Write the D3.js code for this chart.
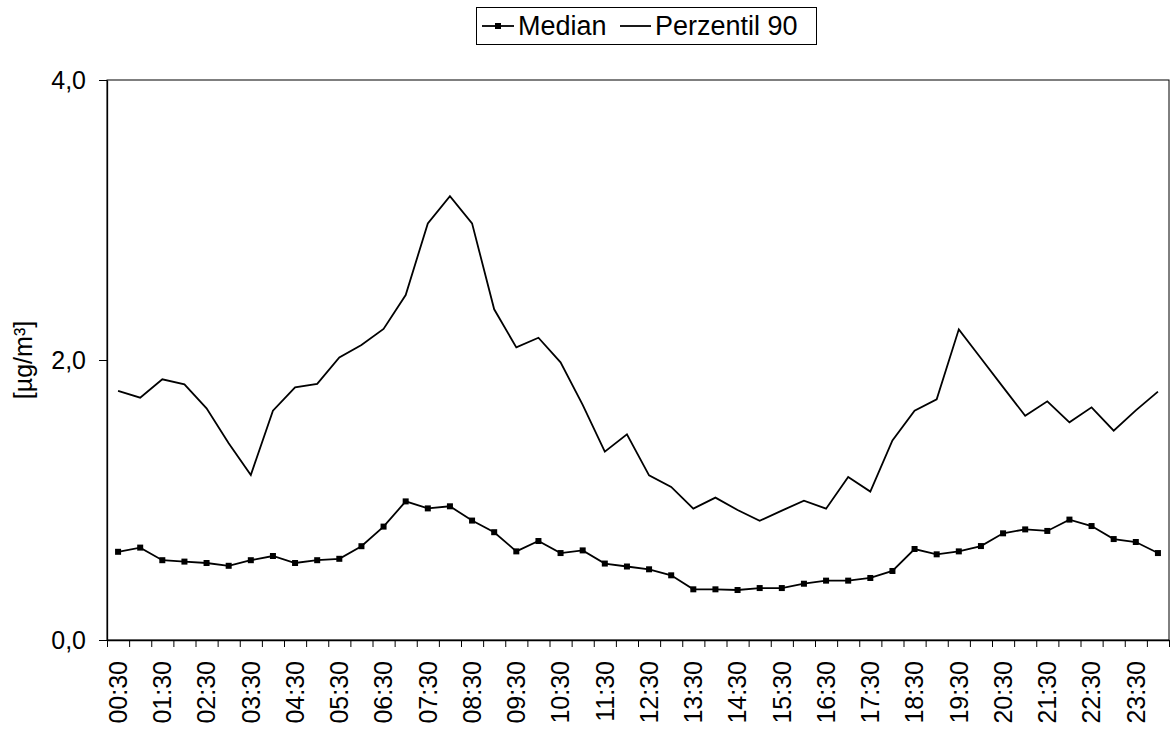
<!DOCTYPE html>
<html>
<head>
<meta charset="utf-8">
<script src="https://cdn.jsdelivr.net/npm/d3@7"></script>
<style>
  html, body { margin: 0; padding: 0; background: #fff; }
  svg { display: block; font-family: "Liberation Sans", Arial, sans-serif; }
</style>
</head>
<body>
<svg id="chart" width="1171" height="731"></svg>
<script>
const categories = ["00:30","01:00","01:30","02:00","02:30","03:00","03:30","04:00","04:30","05:00","05:30","06:00",
  "06:30","07:00","07:30","08:00","08:30","09:00","09:30","10:00","10:30","11:00","11:30","12:00",
  "12:30","13:00","13:30","14:00","14:30","15:00","15:30","16:00","16:30","17:00","17:30","18:00",
  "18:30","19:00","19:30","20:00","20:30","21:00","21:30","22:00","22:30","23:00","23:30","24:00"];

const median = [0.63,0.66,0.57,0.56,0.55,0.53,0.57,0.60,0.55,0.57,0.58,0.67,
  0.81,0.99,0.94,0.955,0.853,0.77,0.633,0.707,0.621,0.64,0.546,0.525,
  0.505,0.462,0.362,0.362,0.357,0.371,0.371,0.402,0.424,0.424,0.443,0.493,
  0.65,0.612,0.633,0.671,0.762,0.79,0.779,0.86,0.814,0.721,0.70,0.621];

const perzentil90 = [1.779,1.731,1.862,1.826,1.655,1.405,1.179,1.638,1.805,1.829,2.019,2.107,
  2.222,2.464,2.976,3.171,2.976,2.362,2.09,2.159,1.983,1.68,1.345,1.469,
  1.176,1.093,0.938,1.017,0.929,0.852,0.924,0.995,0.938,1.164,1.06,1.426,
  1.638,1.719,2.219,2.012,1.806,1.602,1.705,1.555,1.662,1.495,1.64,1.774];

const yTicks = [0, 2, 4];
const seriesNames = ["Median", "Perzentil 90"];
const yTitle = "[µg/m³]";

(function () {
const svg = d3.select("#chart");
const pL = 107, pR = 1169, pT = 80, pB = 640;
const FONT = 25;
const LFONT = 27;

const x = d3.scaleBand().domain(categories).range([pL, pR]).padding(0);
const xb = d3.scaleLinear().domain([0, categories.length]).range([pL, pR]);
const y = d3.scaleLinear().domain([0, 4]).range([pB, pT]);
const cx = d => x(d) + x.bandwidth() / 2;

// plot border
svg.append("rect")
  .attr("x", pL).attr("y", pT)
  .attr("width", pR - pL).attr("height", pB - pT)
  .attr("fill", "none").attr("stroke", "#000").attr("stroke-width", 1);

// y axis
const yAxis = svg.append("g")
  .attr("transform", `translate(${pL},0)`)
  .call(d3.axisLeft(y).tickValues(yTicks).tickSize(8).tickSizeOuter(0).tickPadding(13)
    .tickFormat(d => d3.format(".1f")(d).replace(".", ",")));
yAxis.select(".domain").attr("stroke", "#000").attr("stroke-width", 1.3);
yAxis.selectAll(".tick line").attr("stroke", "#000").attr("stroke-width", 1);
yAxis.selectAll("text").attr("font-size", FONT).attr("fill", "#000")
  .attr("font-family", "Liberation Sans, Arial, sans-serif");

// x axis ticks at category boundaries
const xAxis = svg.append("g")
  .attr("transform", `translate(0,${pB})`)
  .call(d3.axisBottom(xb).tickValues(d3.range(categories.length + 1)).tickSize(7).tickSizeOuter(0).tickFormat(""));
xAxis.select(".domain").attr("stroke", "#000").attr("stroke-width", 1.3);
xAxis.selectAll(".tick line").attr("stroke", "#000").attr("stroke-width", 1);

// x labels (every other category), rotated
svg.append("g").selectAll("text")
  .data(categories.filter((d, i) => i % 2 === 0))
  .join("text")
  .attr("transform", d => `translate(${cx(d)},${pB + 21}) rotate(-90)`)
  .attr("text-anchor", "end")
  .attr("dy", "0.35em")
  .attr("font-size", FONT)
  .attr("fill", "#000")
  .text(d => d);

// y title
svg.append("text")
  .attr("transform", `translate(23,${(pT + pB) / 2}) rotate(-90)`)
  .attr("text-anchor", "middle")
  .attr("dy", "0.35em")
  .attr("font-size", FONT)
  .attr("fill", "#000")
  .text(yTitle);

// lines
const line = d3.line().x((d, i) => cx(categories[i])).y(d => y(d));

svg.append("path").datum(perzentil90)
  .attr("d", line).attr("fill", "none").attr("stroke", "#000").attr("stroke-width", 1.8);

svg.append("path").datum(median)
  .attr("d", line).attr("fill", "none").attr("stroke", "#000").attr("stroke-width", 1.8);

const M = 6;
svg.append("g").selectAll("rect")
  .data(median)
  .join("rect")
  .attr("x", (d, i) => cx(categories[i]) - M / 2)
  .attr("y", d => y(d) - M / 2)
  .attr("width", M).attr("height", M)
  .attr("fill", "#000");

// legend
const lg = svg.append("g");
lg.append("rect").attr("x", 476.5).attr("y", 7.5).attr("width", 340).attr("height", 37)
  .attr("fill", "#fff").attr("stroke", "#000").attr("stroke-width", 1);
const ly = 26;
lg.append("line").attr("x1", 482).attr("x2", 514).attr("y1", ly).attr("y2", ly)
  .attr("stroke", "#000").attr("stroke-width", 1.8);
lg.append("rect").attr("x", 498 - M / 2).attr("y", ly - M / 2).attr("width", M).attr("height", M).attr("fill", "#000");
lg.append("text").attr("x", 518).attr("y", ly).attr("dy", "0.35em").attr("font-size", LFONT).attr("fill", "#000").text(seriesNames[0]);
lg.append("line").attr("x1", 620).attr("x2", 651).attr("y1", ly).attr("y2", ly)
  .attr("stroke", "#000").attr("stroke-width", 1.8);
lg.append("text").attr("x", 655).attr("y", ly).attr("dy", "0.35em").attr("font-size", LFONT).attr("fill", "#000").text(seriesNames[1]);
})();
</script>
</body>
</html>
